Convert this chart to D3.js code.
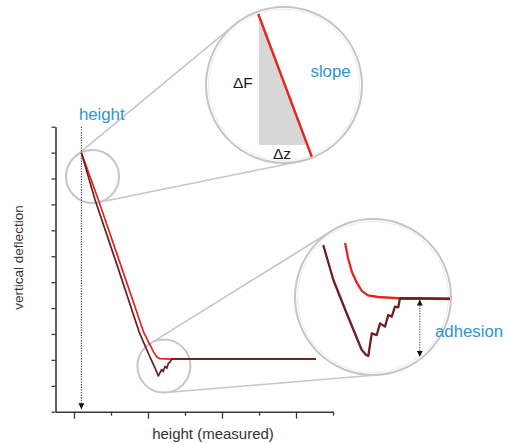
<!DOCTYPE html>
<html><head><meta charset="utf-8">
<script src="https://cdn.jsdelivr.net/npm/d3@7"></script>
<style>html,body{margin:0;padding:0;background:#fff;} svg{display:block;font-family:"Liberation Sans",Arial,Helvetica,sans-serif;}</style>
</head><body><svg id="c" width="508" height="443"></svg>
<script>
// ---- main chart data ----
const xTicks = [0,1,2,3,4,5,6,7];
const yTicks = [0,1,2,3,4,5,6,7,8,9,10,11];
const contactX = 0.2;           // "height" position
const approachX = [0.20,0.66,1.28,1.89,2.15,2.24,2.32,2.60,6.54];
const approachY = [9.99,8.17,5.59,3.04,2.31,2.11,2.05,2.03,2.03];
const retractX = [0.20,0.57,1.18,1.77,2.05,2.19,2.28,2.32,2.37,2.41,2.46,2.51,2.55,2.60,2.64,6.54];
const retractY = [9.99,8.17,5.59,3.04,2.12,1.69,1.38,1.49,1.63,1.55,1.75,1.68,1.87,1.92,2.04,2.04];
// zoom spots on main chart (data coords)
const spotX = [0.50, 2.43];
const spotY = [9.08, 1.76];

// ---- top inset (slope) data, inset units 0..10 ----
const slopeX = [3.35, 6.78];
const slopeY = [9.55, 0.40];
const triX = [3.40, 3.40, 6.42];
const triY = [9.55, 1.15, 1.15];

// ---- bottom inset (adhesion) data, inset units 0..10 ----
const inApproachX = [3.21,3.40,3.65,3.97,4.29,4.68,5.32,6.60,10.0];
const inApproachY = [8.46,7.50,6.60,5.90,5.38,5.10,5.00,4.92,4.87];
const inRetractX = [1.81,2.46,3.31,4.28,4.55,4.70,4.92,5.24,5.45,5.77,5.98,6.20,6.41,6.62,6.73,10.0];
const inRetractY = [8.33,6.09,3.96,1.60,1.30,1.22,2.67,2.56,3.31,3.10,3.85,3.74,4.38,4.34,4.92,4.90];
const adhesionX = 8.0;
const adhesionTop = 4.80, adhesionBottom = 1.20;

const RED = "#e3261f", DARK = "#6d1f1f", BLUE = "#2e95d3", GRAY = "#c6c6c6";
const svg = d3.select("#c");

const defs = svg.append("defs");
defs.append("marker").attr("id","arr").attr("viewBox","0 0 6 6").attr("refX",5.5).attr("refY",3)
  .attr("markerWidth",6).attr("markerHeight",6).attr("markerUnits","userSpaceOnUse")
  .attr("orient","auto-start-reverse")
  .append("path").attr("d","M0,0L6,3L0,6Z").attr("fill","#111");

const x = d3.scaleLinear([-0.5,7],[55.5,333]);
const y = d3.scaleLinear([0,11],[411.7,126.7]);

const ix1 = d3.scaleLinear([0,10],[206,362]);
const iy1 = d3.scaleLinear([0,10],[163,7]);
const ix2 = d3.scaleLinear([0,10],[295,451]);
const iy2 = d3.scaleLinear([0,10],[375,219]);

const smallR = 26.5;
const insets = [
  {cx: x(spotX[0]), cy: y(spotY[0]), r: smallR, CX: ix1(5), CY: iy1(5), R: ix1(10)-ix1(5)},
  {cx: x(spotX[1]), cy: y(spotY[1]), r: smallR, CX: ix2(5), CY: iy2(5), R: ix2(10)-ix2(5)}
];

// connector tangent lines
insets.forEach(c => {
  const dx = c.CX - c.cx, dy = c.CY - c.cy, d = Math.hypot(dx,dy);
  const th = Math.atan2(dy,dx), a = Math.acos((c.r - c.R)/d);
  [th + a, th - a].forEach(p => {
    svg.append("line")
      .attr("x1", c.cx + c.r*Math.cos(p)).attr("y1", c.cy + c.r*Math.sin(p))
      .attr("x2", c.CX + c.R*Math.cos(p)).attr("y2", c.CY + c.R*Math.sin(p))
      .attr("stroke", GRAY).attr("stroke-width", 1.6);
  });
  svg.append("circle").attr("cx",c.cx).attr("cy",c.cy).attr("r",c.r)
    .attr("fill","none").attr("stroke",GRAY).attr("stroke-width",2);
  svg.append("circle").attr("cx",c.CX).attr("cy",c.CY).attr("r",c.R)
    .attr("fill","#fff").attr("stroke",GRAY).attr("stroke-width",2);
  svg.append("circle").attr("cx",c.CX).attr("cy",c.CY).attr("r",c.R-2.5)
    .attr("fill","none").attr("stroke","#ececec").attr("stroke-width",1);
});

// axes
const yAxis = svg.append("g").attr("transform",`translate(${x(-0.5)},0)`)
  .call(d3.axisLeft(y).tickValues(yTicks).tickSize(4).tickSizeOuter(0).tickFormat(""));
const xAxis = svg.append("g").attr("transform",`translate(0,${y(0)})`)
  .call(d3.axisBottom(x).tickValues(xTicks).tickSize(4).tickSizeOuter(0).tickFormat(""));
xAxis.selectAll(".tick line").attr("y2", d => d % 2 === 0 ? 7 : 4);
[xAxis, yAxis].forEach(g => {
  g.select(".domain").attr("stroke","#3a3a3a").attr("stroke-width",1.6);
  g.selectAll(".tick line").attr("stroke","#3a3a3a").attr("stroke-width",1.3);
});

// dotted "height" line
svg.append("line").attr("x1",x(contactX)).attr("x2",x(contactX))
  .attr("y1",y(11)).attr("y2",y(0)-3)
  .attr("stroke","#444").attr("stroke-width",1.1).attr("stroke-dasharray","1.3,1.3")
  .attr("marker-end","url(#arr)");

// main curves
const line = d3.line().x(d => x(d[0])).y(d => y(d[1]));
svg.append("path").attr("d", line(d3.zip(approachX, approachY)))
  .attr("fill","none").attr("stroke",RED).attr("stroke-width",1.7);
svg.append("path").attr("d", line(d3.zip(retractX, retractY)))
  .attr("fill","none").attr("stroke",DARK).attr("stroke-width",1.7).attr("stroke-linejoin","round");

// top inset
defs.append("clipPath").attr("id","clip1").append("circle")
  .attr("cx",insets[0].CX).attr("cy",insets[0].CY).attr("r",insets[0].R-1);
const g1 = svg.append("g").attr("clip-path","url(#clip1)");
g1.append("path").attr("d", d3.line().x(d=>ix1(d[0])).y(d=>iy1(d[1]))(d3.zip(triX,triY)) + "Z")
  .attr("fill","#d7d7d7");
g1.append("path").attr("d", d3.line().x(d=>ix1(d[0])).y(d=>iy1(d[1]))(d3.zip(slopeX,slopeY)))
  .attr("stroke",RED).attr("stroke-width",2.4).attr("fill","none");

// bottom inset
defs.append("clipPath").attr("id","clip2").append("circle")
  .attr("cx",insets[1].CX).attr("cy",insets[1].CY).attr("r",insets[1].R-1);
const g2 = svg.append("g").attr("clip-path","url(#clip2)");
const line2 = d3.line().x(d=>ix2(d[0])).y(d=>iy2(d[1]));
g2.append("path").attr("d", line2(d3.zip(inApproachX,inApproachY)))
  .attr("fill","none").attr("stroke",RED).attr("stroke-width",2.3);
g2.append("path").attr("d", line2(d3.zip(inRetractX,inRetractY)))
  .attr("fill","none").attr("stroke",DARK).attr("stroke-width",2.3).attr("stroke-linejoin","round");
svg.append("line").attr("x1",ix2(adhesionX)).attr("x2",ix2(adhesionX))
  .attr("y1",iy2(adhesionTop)).attr("y2",iy2(adhesionBottom))
  .attr("stroke","#444").attr("stroke-width",1).attr("stroke-dasharray","1.3,1.3")
  .attr("marker-start","url(#arr)").attr("marker-end","url(#arr)");

// texts
const txt = (t, xx, yy, size, fill, anchor="start") =>
  svg.append("text").attr("x",xx).attr("y",yy).attr("font-size",size).attr("fill",fill)
    .attr("text-anchor",anchor).text(t);
txt("height", x(contactX)-2.5, 120, 16.8, BLUE);
txt("slope", 310.5, 77, 16.8, BLUE);
txt("ΔF", 233, 88, 15.5, "#1a1a1a");
txt("Δz", 273, 159, 15.5, "#1a1a1a");
txt("adhesion", 435, 336.5, 16.8, BLUE);
txt("height (measured)", 213, 439, 15, "#333", "middle");
svg.append("text").attr("transform","translate(23,257.5) rotate(-90)")
  .attr("text-anchor","middle").attr("font-size",13.5).attr("fill","#333").text("vertical deflection");
</script></body></html>
